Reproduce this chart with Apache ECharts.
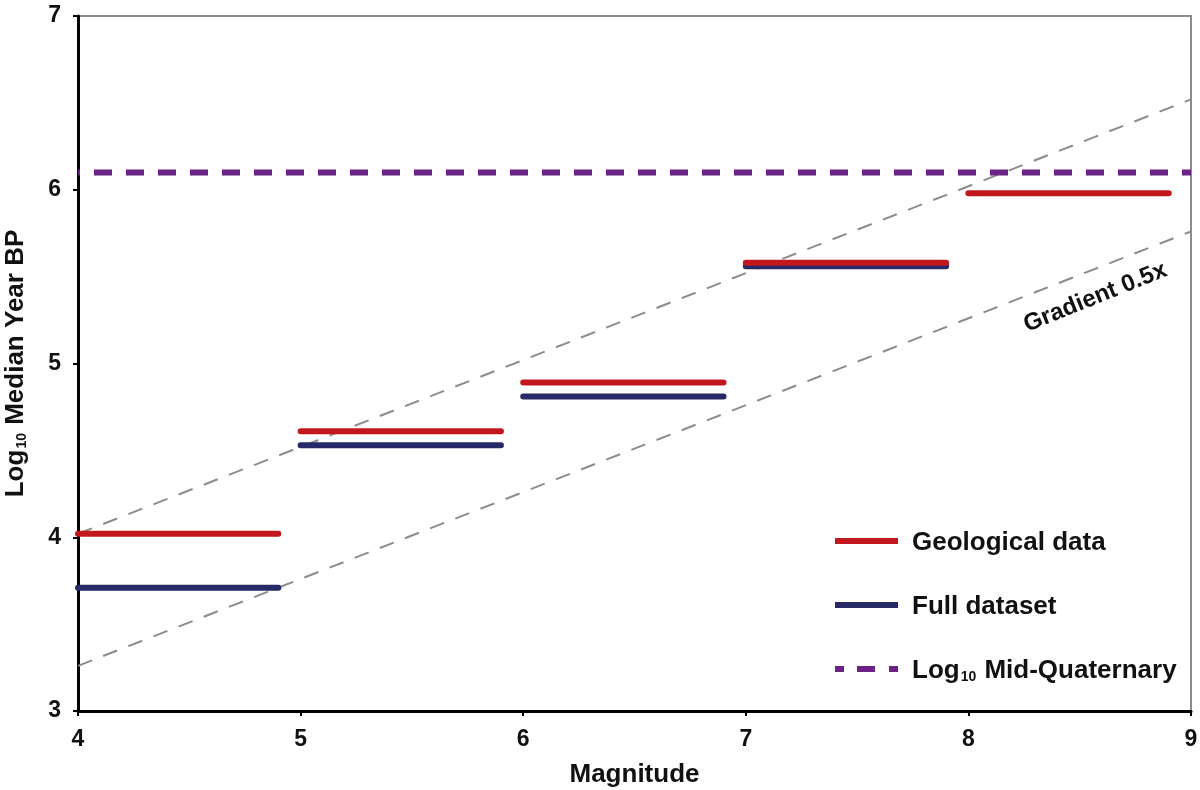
<!DOCTYPE html>
<html>
<head>
<meta charset="utf-8">
<script src="https://cdn.jsdelivr.net/npm/echarts@6/dist/echarts.min.js"></script>
<style>
html,body{margin:0;padding:0;background:#fff;}
#chart{width:1200px;height:790px;}
</style>
</head>
<body>
<div id="chart"></div>
<script>
// ---- data ----
const segStarts = [4, 5, 6, 7, 8];
const segEnds = [4.9, 5.9, 6.9, 7.9, 8.9];
const geological = [4.02, 4.61, 4.89, 5.58, 5.98];
const fullDataset = [3.71, 4.53, 4.81, 5.56, null];
const midQuaternary = 6.10;
const gradientX = [4, 9];
const upperGuide = [4.02, 6.52];
const lowerGuide = [3.26, 5.76];
const xTicks = [4, 5, 6, 7, 8, 9];
const yTicks = [3, 4, 5, 6, 7];
const gradientLabel = 'Gradient 0.5x';
const gradientLabelPos = [8.57, 5.38];

function segments(vals) {
  const out = [];
  vals.forEach((v, i) => {
    if (v === null) return;
    out.push([segStarts[i], v], [segEnds[i], v], [(segEnds[i] + segStarts[i] + 1) / 2, '-']);
  });
  return out;
}

const FONT = '"Liberation Sans", Arial, sans-serif';
const RED = '#c2181d', BLUE = '#262a66', PURPLE = '#6a2384', GRAY = '#8c8c8c';
const SOLID_ICON = 'path://M0,0H63V6H0Z';
const DASH_ICON = 'path://M0,0H9V6H0Z M22,0H40V6H22Z M54,0H63V6H54Z';

const chart = echarts.init(document.getElementById('chart'));
chart.setOption({
  animation: false,
  backgroundColor: '#fff',
  grid: { left: 78, right: 9, top: 16, bottom: 79, show: true, borderColor: GRAY, borderWidth: 2, outerBoundsMode: 'none', containLabel: false },
  xAxis: {
    type: 'value', min: xTicks[0], max: xTicks[xTicks.length - 1], interval: 1,
    name: 'Magnitude', nameLocation: 'middle', nameGap: 51,
    nameTextStyle: { fontFamily: FONT, fontWeight: 'bold', fontSize: 26, color: '#111' },
    axisLine: { lineStyle: { color: '#000', width: 3 } },
    axisTick: { length: 5, lineStyle: { color: '#000', width: 2 } },
    axisLabel: { fontFamily: FONT, fontWeight: 'bold', fontSize: 23, color: '#111', margin: 17 },
    splitLine: { show: false }
  },
  yAxis: {
    type: 'value', min: yTicks[0], max: yTicks[yTicks.length - 1], interval: 1,
    name: '{b|Log}{s|10}{b| Median Year BP}', nameLocation: 'middle', nameGap: 49,
    nameTextStyle: {
      fontFamily: FONT, fontWeight: 'bold', fontSize: 26, color: '#111',
      rich: {
        b: { fontFamily: FONT, fontWeight: 'bold', fontSize: 26, color: '#111', lineHeight: 30, verticalAlign: 'bottom' },
        s: { fontFamily: FONT, fontWeight: 'bold', fontSize: 14, color: '#111', lineHeight: 30, verticalAlign: 'bottom', padding: [0, 1, 0, 1] }
      }
    },
    axisLine: { show: true, lineStyle: { color: '#000', width: 3 } },
    axisTick: { show: true, length: 5, lineStyle: { color: '#000', width: 2 } },
    axisLabel: { fontFamily: FONT, fontWeight: 'bold', fontSize: 23, color: '#111', margin: 17 },
    splitLine: { show: false }
  },
  legend: {
    data: [
      { name: 'Geological data', icon: SOLID_ICON },
      { name: 'Full dataset', icon: SOLID_ICON },
      { name: 'Log10 Mid-Quaternary', icon: DASH_ICON }
    ],
    orient: 'vertical', left: 835, top: 530, padding: 0, itemWidth: 63, itemHeight: 6, itemGap: 38,
    formatter: function (name) {
      if (name === 'Log10 Mid-Quaternary') return '{b|Log}{s|10}{b| Mid-Quaternary}';
      return '{b|' + name + '}';
    },
    textStyle: {
      fontFamily: FONT, fontWeight: 'bold', fontSize: 26, color: '#111', padding: [0, 0, 0, 9],
      rich: {
        b: { fontFamily: FONT, fontWeight: 'bold', fontSize: 26, color: '#111', lineHeight: 30, verticalAlign: 'bottom' },
        s: { fontFamily: FONT, fontWeight: 'bold', fontSize: 14, color: '#111', lineHeight: 30, verticalAlign: 'bottom', padding: [0, 1, 0, 1] }
      }
    }
  },
  series: [
    {
      name: 'upper', type: 'line', symbol: 'none', silent: true, z: 1,
      data: gradientX.map((x, i) => [x, upperGuide[i]]),
      lineStyle: { color: GRAY, width: 2, type: [15, 12] }
    },
    {
      name: 'lower', type: 'line', symbol: 'none', silent: true, z: 1,
      data: gradientX.map((x, i) => [x, lowerGuide[i]]),
      lineStyle: { color: GRAY, width: 2, type: [15, 12] },
      markPoint: {
        symbol: 'circle', symbolSize: 0, silent: true,
        data: [{ coord: gradientLabelPos, value: gradientLabel }],
        label: {
          show: true, position: 'inside', formatter: gradientLabel, rotate: 22,
          fontFamily: FONT, fontWeight: 'bold', fontSize: 24, color: '#111'
        }
      }
    },
    {
      name: 'Log10 Mid-Quaternary', type: 'line', symbol: 'none', z: 2,
      data: gradientX.map(x => [x, midQuaternary]),
      itemStyle: { color: PURPLE },
      lineStyle: { color: PURPLE, width: 6, type: [18, 14], dashOffset: 16 }
    },
    {
      name: 'Full dataset', type: 'line', symbol: 'none', z: 3, connectNulls: false,
      data: segments(fullDataset),
      itemStyle: { color: BLUE },
      lineStyle: { color: BLUE, width: 6, cap: 'round' }
    },
    {
      name: 'Geological data', type: 'line', symbol: 'none', z: 4, connectNulls: false,
      data: segments(geological),
      itemStyle: { color: RED },
      lineStyle: { color: RED, width: 6, cap: 'round' }
    }
  ]
});
</script>
</body>
</html>
